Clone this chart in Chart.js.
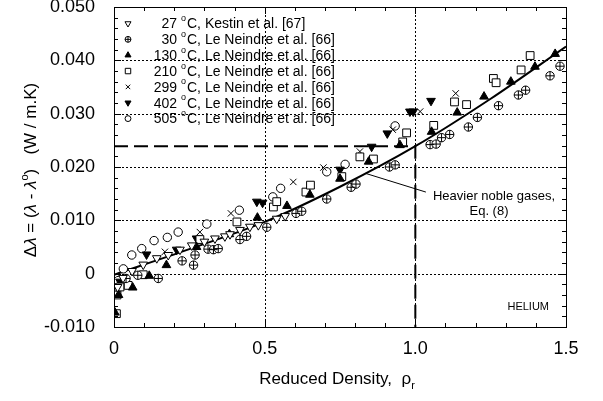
<!DOCTYPE html>
<html>
<head>
<meta charset="utf-8">
<script src="https://cdn.jsdelivr.net/npm/chart.js@4.4.0/dist/chart.umd.min.js"></script>
<style>
  html, body { margin: 0; padding: 0; background: #fff; }
</style>
</head>
<body>
<canvas id="chartHelium" width="603" height="401"></canvas>
<script>
const FONT = "'Liberation Sans', Arial, Helvetica, sans-serif";

// legend text
const tempLabels = ['27', '30', '130', '210', '299', '402', '505'];
const refLabels = ['Kestin et al. [67]', 'Le Neindre et al. [66]', 'Le Neindre et al. [66]',
  'Le Neindre et al. [66]', 'Le Neindre et al. [66]', 'Le Neindre et al. [66]', 'Le Neindre et al. [66]'];

// measured points [reduced density, delta lambda]
const kestin27 = [[0.012,-0.0025],[0.03,-0.0008],[0.06,0.0005],[0.097,0.0017],[0.142,0.0029],[0.18,0.0035],
  [0.219,0.0045],[0.258,0.0053],[0.3,0.006],[0.335,0.0066],[0.368,0.007],[0.385,0.0074],[0.418,0.0082],
  [0.451,0.0088],[0.479,0.0091],[0.54,0.0103],[0.568,0.0108]];
const neindre30 = [[0.04,-0.0009],[0.079,-0.0003],[0.147,-0.0009],[0.226,0.0024],[0.264,0.0016],[0.269,0.0035],
  [0.312,0.0046],[0.33,0.0045],[0.346,0.0047],[0.418,0.0064],[0.44,0.007],[0.507,0.0087],[0.604,0.0113],
  [0.623,0.0117],[0.706,0.014],[0.787,0.0162],[0.803,0.0168],[0.914,0.02],[0.933,0.0204],[1.049,0.0242],
  [1.069,0.0243],[1.087,0.0255],[1.114,0.0261],[1.176,0.0275],[1.206,0.0293],[1.276,0.0315],[1.342,0.0335],
  [1.366,0.0344],[1.447,0.0371],[1.48,0.0389]];
const neindre130 = [[0.003,-0.0073],[0.015,-0.004],[0.062,-0.0026],[0.117,-0.0004],[0.174,0.0016],[0.274,0.005],
  [0.383,0.0074],[0.476,0.0105],[0.574,0.0127],[0.65,0.0148],[0.75,0.0178],[0.845,0.021],[0.949,0.0241],
  [1.054,0.0266],[1.139,0.0302],[1.228,0.0332],[1.317,0.036],[1.397,0.0388],[1.464,0.0412]];
const neindre210 = [[0.008,-0.0075],[0.01,-0.004],[0.02,-0.0025],[0.047,-0.0022],[0.097,-0.0002],[0.285,0.0064],
  [0.408,0.0097],[0.529,0.0125],[0.54,0.0135],[0.637,0.0153],[0.652,0.0166],[0.756,0.0182],[0.816,0.0219],
  [0.861,0.0215],[0.958,0.0247],[0.971,0.0264],[1.061,0.0278],[1.13,0.0322],[1.17,0.0317],[1.259,0.0366],
  [1.268,0.0358],[1.351,0.0382],[1.381,0.0409]];
const neindre299 = [[0.03,-0.001],[0.169,0.0041],[0.285,0.0078],[0.388,0.0113],[0.595,0.0172],[0.695,0.0199],
  [0.816,0.0229],[0.925,0.027],[1.016,0.0304],[1.134,0.0338]];
const neindre402 = [[0.02,-0.0015],[0.108,0.0036],[0.208,0.0045],[0.274,0.0066],[0.474,0.0135],[0.493,0.0133],
  [0.75,0.0195],[0.855,0.0238],[0.907,0.0263],[0.982,0.0304],[0.993,0.0304],[1.052,0.0324]];
const neindre505 = [[0.014,-0.0013],[0.031,0.0009],[0.059,0.0035],[0.092,0.0047],[0.133,0.0062],[0.177,0.0068],
  [0.213,0.0078],[0.308,0.0093],[0.416,0.0119],[0.527,0.0144],[0.553,0.016],[0.706,0.0191],[0.767,0.0205],
  [0.933,0.0277]];

// Eq. (8) curve
const curveX = [0, 0.25, 0.5, 0.75, 1.0, 1.25, 1.5];
const curveY = [-0.0002, 0.0046, 0.0097, 0.0163, 0.0239, 0.0328, 0.0426];
// dashed reading lines at rho_r = 1
const guideX = [0, 1.0, 1.0];
const guideY = [0.0239, 0.0239, -0.010];
// leader to the label
const leaderX = [0.835, 1.035];
const leaderY = [0.0188, 0.0153];

const xTicks = [0, 0.5, 1.0, 1.5];
const yTicks = [-0.010, 0, 0.010, 0.020, 0.030, 0.040, 0.050];

// marker per series; the 30 C one is a circle with a cross laid over it
const markers = [
  { pointStyle: 'triangle', rotation: 180, bg: '#fff', r: 5 },
  { pointStyle: 'circle', rotation: 0, bg: '#fff', r: 4.2, overlay: 'cross' },
  { pointStyle: 'triangle', rotation: 0, bg: '#000', r: 5 },
  { pointStyle: 'rect', rotation: 0, bg: '#fff', r: 5.5 },
  { pointStyle: 'crossRot', rotation: 0, bg: '#fff', r: 4.5 },
  { pointStyle: 'triangle', rotation: 180, bg: '#000', r: 5 },
  { pointStyle: 'circle', rotation: 0, bg: '#fff', r: 4.2 }
];
const allSeries = [kestin27, neindre30, neindre130, neindre210, neindre299, neindre402, neindre505];

const toXY = (xs, ys) => xs.map((x, i) => ({ x: x, y: ys[i] }));

const pointSets = [];
allSeries.forEach((pts, i) => {
  const m = markers[i];
  const data = pts.map(p => ({ x: p[0], y: p[1] }));
  if (m.overlay) {
    pointSets.push({
      label: 'overlay', data: data, pointStyle: m.overlay, pointRadius: m.r,
      borderColor: '#000', backgroundColor: '#000', borderWidth: 1, showLine: false
    });
  }
  pointSets.push({
    label: tempLabels[i] + ' °C, ' + refLabels[i],
    data: data,
    pointStyle: m.pointStyle,
    rotation: m.rotation,
    pointRadius: m.r,
    backgroundColor: m.bg,
    borderColor: '#000',
    borderWidth: 1,
    showLine: false
  });
});

const lineSets = [
  { label: 'Eq. (8)', data: toXY(curveX, curveY), showLine: true, pointRadius: 0, borderColor: '#000',
    borderWidth: 2, cubicInterpolationMode: 'monotone', fill: false },
  { label: 'guide', data: toXY(guideX, guideY), showLine: true, pointRadius: 0, borderColor: '#000',
    borderWidth: 2, borderDash: [14, 6], fill: false },
  { label: 'leader', data: toXY(leaderX, leaderY), showLine: true, pointRadius: 0, borderColor: '#000',
    borderWidth: 1, fill: false }
];

// text made of pieces (italic, superscript, subscript)
function runWidth(ctx, runs, size) {
  let w = 0;
  runs.forEach(r => {
    const s = (r.sup || r.sub) ? size * 0.65 : size;
    ctx.font = (r.it ? 'italic ' : '') + s + 'px ' + FONT;
    w += ctx.measureText(r.t).width;
  });
  return w;
}
function drawRuns(ctx, runs, x, y, size) {
  let cx = x - runWidth(ctx, runs, size) / 2;
  ctx.textAlign = 'left';
  ctx.textBaseline = 'alphabetic';
  runs.forEach(r => {
    const s = (r.sup || r.sub) ? size * 0.65 : size;
    ctx.font = (r.it ? 'italic ' : '') + s + 'px ' + FONT;
    const dy = r.sup ? -size * 0.45 : (r.sub ? size * 0.3 : 0);
    ctx.fillText(r.t, cx, y + dy);
    cx += ctx.measureText(r.t).width;
  });
}

const framePlugin = {
  id: 'frame',
  beforeDatasetsDraw(chart) {
    const { ctx, chartArea: a, scales: { x, y } } = chart;
    ctx.save();
    ctx.strokeStyle = '#000';
    ctx.lineWidth = 1;
    ctx.setLineDash([2, 2]);
    [0, 0.01, 0.02, 0.03, 0.04].forEach(v => {
      const py = Math.round(y.getPixelForValue(v)) + 0.5;
      ctx.beginPath(); ctx.moveTo(a.left, py); ctx.lineTo(a.right, py); ctx.stroke();
    });
    [0.5, 1.0].forEach(v => {
      const px = Math.round(x.getPixelForValue(v)) + 0.5;
      ctx.beginPath(); ctx.moveTo(px, a.top); ctx.lineTo(px, a.bottom); ctx.stroke();
    });
    ctx.restore();
  },
  afterDatasetsDraw(chart) {
    const { ctx, chartArea: a, scales: { x, y } } = chart;
    ctx.save();
    ctx.strokeStyle = '#000';
    ctx.lineWidth = 1;
    ctx.setLineDash([]);
    ctx.strokeRect(Math.round(a.left) + 0.5, Math.round(a.top) + 0.5,
      Math.round(a.right - a.left), Math.round(a.bottom - a.top));

    // inward ticks
    ctx.beginPath();
    for (let k = 0; k <= 30; k++) {
      const v = -0.01 + k * 0.002;
      const len = (k % 5 === 0) ? 7 : 4;
      const py = Math.round(y.getPixelForValue(v)) + 0.5;
      ctx.moveTo(a.left, py); ctx.lineTo(a.left + len, py);
      ctx.moveTo(a.right, py); ctx.lineTo(a.right - len, py);
    }
    for (let k = 0; k <= 15; k++) {
      const v = k * 0.1;
      const len = (k % 5 === 0) ? 7 : 4;
      const px = Math.round(x.getPixelForValue(v)) + 0.5;
      ctx.moveTo(px, a.bottom); ctx.lineTo(px, a.bottom - len);
      ctx.moveTo(px, a.top); ctx.lineTo(px, a.top + len);
    }
    ctx.stroke();

    // legend inside the plot
    for (let i = 0; i < tempLabels.length; i++) {
      const ly = 23.5 + i * 15.85;
      const m = markers[i];
      ctx.fillStyle = m.bg;
      ctx.strokeStyle = '#000';
      ctx.lineWidth = 1;
      Chart.helpers.drawPoint(ctx, {
        pointStyle: m.pointStyle, rotation: m.rotation,
        radius: m.r * 0.7, borderWidth: 1
      }, 128, ly);
      if (m.overlay) {
        Chart.helpers.drawPoint(ctx, { pointStyle: m.overlay, rotation: 0, radius: m.r * 0.7, borderWidth: 1 }, 128, ly);
      }
      ctx.fillStyle = '#000';
      ctx.textBaseline = 'middle';
      ctx.font = '14px ' + FONT;
      ctx.textAlign = 'right';
      ctx.fillText(tempLabels[i] + ' ', 181, ly + 1);
      ctx.font = '9px ' + FONT;
      ctx.textAlign = 'left';
      ctx.fillText('o', 181, ly - 5);
      ctx.font = '14px ' + FONT;
      ctx.fillText('C, ' + refLabels[i], 187, ly + 1);
    }

    // curve label
    ctx.fillStyle = '#000';
    ctx.font = '13px ' + FONT;
    ctx.textAlign = 'center';
    ctx.textBaseline = 'middle';
    ctx.fillText('Heavier noble gases,', 494, 196);
    ctx.fillText('Eq. (8)', 489, 211);

    ctx.font = '11px ' + FONT;
    ctx.textAlign = 'right';
    ctx.fillText('HELIUM', 549, 307);

    // axis titles
    drawRuns(ctx, [{ t: 'Reduced Density,  ρ' }, { t: 'r', sub: 1 }], 337, 384, 17);
    ctx.translate(36, 170);
    ctx.rotate(-Math.PI / 2);
    drawRuns(ctx, [{ t: 'Δ' }, { t: 'λ', it: 1 }, { t: ' = (' }, { t: 'λ', it: 1 }, { t: ' - ' },
      { t: 'λ', it: 1 }, { t: 'o', sup: 1 }, { t: ')   (W / m.K)' }], 0, 0, 17);
    ctx.restore();
  }
};

const chartHelium = new Chart(document.getElementById('chartHelium').getContext('2d'), {
  type: 'scatter',
  data: { datasets: pointSets.concat(lineSets) },
  options: {
    responsive: false,
    animation: false,
    devicePixelRatio: 1,
    layout: { padding: { left: 0, top: 7, right: 37, bottom: 0 } },
    plugins: { legend: { display: false }, tooltip: { enabled: false } },
    scales: {
      x: {
        type: 'linear', min: 0, max: 1.5,
        grid: { display: false }, border: { display: false },
        afterBuildTicks: s => { s.ticks = xTicks.map(v => ({ value: v })); },
        afterFit: s => { s.height = 74; s.paddingLeft = 0; s.paddingRight = 0; },
        ticks: {
          padding: 3, color: '#000', font: { family: FONT, size: 18 },
          maxRotation: 0,
          callback: v => v === 0 ? '0' : v.toFixed(1)
        }
      },
      y: {
        type: 'linear', min: -0.010, max: 0.050,
        grid: { display: false }, border: { display: false },
        afterBuildTicks: s => { s.ticks = yTicks.map(v => ({ value: v })); },
        afterFit: s => { s.width = 114; s.paddingTop = 0; s.paddingBottom = 0; },
        ticks: {
          padding: 11, color: '#000', font: { family: FONT, size: 18 },
          callback: v => Math.abs(v) < 1e-9 ? '0' : v.toFixed(3)
        }
      }
    }
  },
  plugins: [framePlugin]
});
</script>
</body>
</html>
